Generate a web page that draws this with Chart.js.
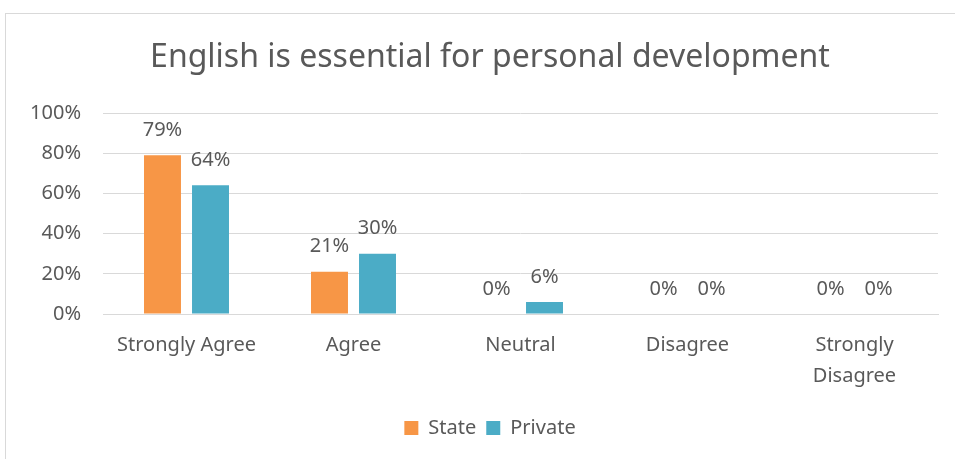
<!DOCTYPE html>
<html>
<head>
<meta charset="utf-8">
<script src="https://cdn.jsdelivr.net/npm/chart.js@4.4.0/dist/chart.umd.min.js"></script>
<style>
  html, body { margin: 0; padding: 0; background: #fff; overflow: hidden; }
  #frame {
    position: absolute; left: 5px; top: 13px;
    width: 1200px; height: 1000px;
    border: 1px solid #d9d9d9;
  }
  #survey { position: absolute; left: 0; top: 0; }
</style>
</head>
<body>
<div id="frame"></div>
<canvas id="survey" width="980" height="459"></canvas>
<script>
var categories = ['Strongly Agree', 'Agree', 'Neutral', 'Disagree', ['Strongly', 'Disagree']];
var stateValues = [79, 21, 0, 0, 0];
var privateValues = [64, 30, 6, 0, 0];
var seriesNames = ['State', 'Private'];
var yTicks = [0, 20, 40, 60, 80, 100];

var textColor = '#595959';
var fontFamily = "'Noto Sans', sans-serif";

// writes the value above each bar
var valueLabels = {
  id: 'valueLabels',
  afterDatasetsDraw: function(chart) {
    var ctx = chart.ctx;
    ctx.save();
    ctx.font = '20px ' + fontFamily;
    ctx.fillStyle = textColor;
    ctx.textAlign = 'center';
    ctx.textBaseline = 'middle';
    chart.data.datasets.forEach(function(ds, i) {
      var meta = chart.getDatasetMeta(i);
      meta.data.forEach(function(bar, j) {
        ctx.fillText(ds.data[j] + '%', bar.x, bar.y - 25);
      });
    });
    ctx.restore();
  }
};

// centre title and legend on the whole frame, not just the plot side
var centreBlocks = {
  id: 'centreBlocks',
  afterLayout: function(chart) {
    if (chart.titleBlock) chart.titleBlock.left = 42;
    if (chart.legend) chart.legend.left = 42;
  }
};

var ctx = document.getElementById('survey').getContext('2d');
var chart = new Chart(ctx, {
  type: 'bar',
  data: {
    labels: categories,
    datasets: [{
      label: seriesNames[0],
      data: stateValues,
      backgroundColor: '#F79646',
      categoryPercentage: 0.575,
      barPercentage: 0.77
    }, {
      label: seriesNames[1],
      data: privateValues,
      backgroundColor: '#4BACC6',
      categoryPercentage: 0.575,
      barPercentage: 0.77
    }]
  },
  options: {
    responsive: false,
    devicePixelRatio: 1,
    animation: false,
    layout: { padding: { left: 0, right: 42, top: 0, bottom: 11 } },
    plugins: {
      title: {
        display: true,
        text: 'English is essential for personal development',
        color: textColor,
        font: { family: fontFamily, size: 32, weight: 'normal', lineHeight: 1.2 },
        padding: { top: 39, bottom: 35.6 }
      },
      legend: {
        position: 'bottom',
        labels: {
          color: textColor,
          font: { family: fontFamily, size: 20 },
          boxWidth: 14,
          boxHeight: 14,
          padding: 10
        }
      },
      tooltip: { enabled: false }
    },
    scales: {
      x: {
        grid: { display: false, drawTicks: false },
        border: { display: true, color: '#d9d9d9' },
        ticks: {
          color: textColor,
          font: { family: fontFamily, size: 20, lineHeight: 1.55 },
          padding: 16,
          maxRotation: 0,
          autoSkip: false
        },
        afterFit: function(scale) { scale.height = 94; }
      },
      y: {
        min: 0,
        max: 100,
        afterBuildTicks: function(scale) {
          scale.ticks = yTicks.map(function(v) { return { value: v }; });
        },
        grid: { color: '#d9d9d9', drawTicks: false },
        border: { display: false },
        ticks: {
          color: textColor,
          font: { family: fontFamily, size: 20 },
          padding: 22,
          callback: function(v) { return v + '%'; }
        },
        afterFit: function(scale) { scale.width = 103; }
      }
    }
  },
  plugins: [valueLabels, centreBlocks]
});
</script>
</body>
</html>
